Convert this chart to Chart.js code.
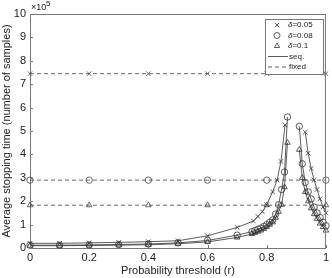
<!DOCTYPE html>
<html>
<head>
<meta charset="utf-8">
<script src="https://cdn.jsdelivr.net/npm/chart.js@4/dist/chart.umd.min.js"></script>
<style>
  html, body { margin: 0; padding: 0; background: #fff; }
  #wrap { width: 332px; height: 278px; }
</style>
</head>
<body>
<div id="wrap"><canvas id="myChart" width="332" height="278"></canvas></div>
<script>
// values in units of 1e5 samples
const xTicks = [0, 0.2, 0.4, 0.6, 0.8, 1];
const yTicks = [0, 1, 2, 3, 4, 5, 6, 7, 8, 9, 10];

const fixedR = [0, 0.2, 0.4, 0.6, 0.8, 1];
const fixed05 = [7.45, 7.45, 7.45, 7.45, 7.45, 7.45];
const fixed08 = [2.9, 2.9, 2.9, 2.9, 2.9, 2.9];
const fixed10 = [1.83, 1.83, 1.83, 1.83, 1.83, 1.83];

const seqR05 = [0, 0.1, 0.2, 0.3, 0.4, 0.5, 0.6, 0.7, 0.755, 0.77, 0.785, 0.8, 0.82, 0.835, 0.848, 0.862, 0.9, 0.93, 0.94, 0.95, 0.96, 0.97, 0.98, 0.99, 1];
const seq05 = [0.2, 0.2, 0.22, 0.24, 0.27, 0.31, 0.52, 0.88, 1.15, 1.35, 1.55, 1.85, 2.4, 2.9, 3.7, 5.26, null, 4.95, 4.05, 3.4, 2.9, 2.5, 2.1, 1.75, 1.5];

const seqR = [0, 0.1, 0.2, 0.3, 0.4, 0.5, 0.6, 0.7, 0.75, 0.76, 0.77, 0.78, 0.79, 0.8, 0.81, 0.82, 0.83, 0.84, 0.85, 0.86, 0.87, 0.89, 0.91, 0.92, 0.93, 0.94, 0.95, 0.96, 0.97, 0.98, 0.99, 1];
const seq08 = [0.12, 0.12, 0.13, 0.15, 0.17, 0.22, 0.32, 0.55, 0.7, 0.75, 0.8, 0.85, 0.92, 1.0, 1.1, 1.2, 1.45, 1.85, 2.5, 3.25, 5.6, null, 5.2, 3.6, 2.8, 2.4, 2.1, 1.75, 1.5, 1.3, 1.1, 0.95];
const seq10 = [0.1, 0.1, 0.11, 0.12, 0.14, 0.18, 0.26, 0.45, 0.6, 0.65, 0.7, 0.75, 0.82, 0.9, 1.0, 1.1, 1.3, 1.55, 1.85, 2.6, 4.5, null, 4.2, 3.0, 2.4, 2.0, 1.7, 1.45, 1.25, 1.05, 0.9, 0.75];

const FONT = 'Liberation Sans, Arial, sans-serif';
const INK = '#222';
const AXIS = '#777';

const pts = (xs, ys) => xs.map((x, i) => ({ x: x, y: ys[i] }));

function seqSet(xs, ys, style) {
    return {
        data: pts(xs, ys),
        borderColor: '#333',
        borderWidth: 0.8,
        pointStyle: style,
        pointRadius: 3.2,
        pointBorderColor: '#333',
        pointBackgroundColor: 'rgba(0,0,0,0)',
        pointBorderWidth: 0.8,
        spanGaps: false,
        tension: 0
    };
}

function fixedSet(ys, style) {
    return {
        data: pts(fixedR, ys),
        borderColor: '#444',
        borderWidth: 0.8,
        borderDash: [4, 3],
        pointStyle: style,
        pointRadius: 3.2,
        pointBorderColor: '#444',
        pointBackgroundColor: 'rgba(0,0,0,0)',
        pointBorderWidth: 0.8,
        tension: 0
    };
}

// frame, inward ticks, exponent label and legend box
const decorations = {
    id: 'decorations',
    afterDraw(chart) {
        const { ctx, chartArea: a, scales } = chart;
        ctx.save();
        ctx.strokeStyle = AXIS;
        ctx.lineWidth = 1;
        ctx.beginPath();
        ctx.moveTo(a.left, a.top + 0.5); ctx.lineTo(a.right, a.top + 0.5);
        ctx.moveTo(a.right - 0.5, a.top); ctx.lineTo(a.right - 0.5, a.bottom);
        xTicks.forEach(v => {
            const px = Math.round(scales.x.getPixelForValue(v)) + 0.5;
            ctx.moveTo(px, a.bottom); ctx.lineTo(px, a.bottom - 3);
        });
        yTicks.forEach(v => {
            const py = Math.round(scales.y.getPixelForValue(v)) + 0.5;
            ctx.moveTo(a.left, py); ctx.lineTo(a.left + 3, py);
        });
        ctx.stroke();

        // x10^5
        ctx.fillStyle = INK;
        ctx.textBaseline = 'alphabetic';
        ctx.textAlign = 'left';
        ctx.font = '9px ' + FONT;
        ctx.fillText('\u00d710', a.left + 1, 10);
        ctx.font = '8px ' + FONT;
        ctx.fillText('5', a.left + 16, 6);

        // legend
        const bx = 265, by = 19, bw = 58, bh = 55;
        ctx.fillStyle = '#fff';
        ctx.fillRect(bx, by, bw, bh);
        ctx.strokeStyle = AXIS;
        ctx.strokeRect(bx + 0.5, by + 0.5, bw, bh);
        const rows = [
            { m: 'crossRot', t: '=0.05' },
            { m: 'circle', t: '=0.08' },
            { m: 'triangle', t: '=0.1' }
        ];
        ctx.textBaseline = 'middle';
        rows.forEach((r, i) => {
            const y = by + 6 + i * 10.5;
            ctx.fillStyle = 'rgba(0,0,0,0)';
            ctx.strokeStyle = '#333';
            ctx.lineWidth = 0.8;
            Chart.helpers.drawPoint(ctx, { pointStyle: r.m, radius: 3, borderWidth: 0.8 }, 277, y);
            ctx.fillStyle = INK;
            ctx.font = 'italic 8px ' + FONT;
            ctx.fillText('\u03b4', 288, y);
            const w = ctx.measureText('\u03b4').width;
            ctx.font = '8px ' + FONT;
            ctx.fillText(r.t, 288 + w, y);
        });
        ctx.fillStyle = INK;
        ctx.strokeStyle = '#333';
        ctx.lineWidth = 0.8;
        let y = by + 6 + 3 * 10.5;
        ctx.beginPath(); ctx.moveTo(268, y); ctx.lineTo(288, y); ctx.stroke();
        ctx.fillText('seq.', 289, y);
        y = by + 6 + 4 * 10.5;
        ctx.setLineDash([4, 3]);
        ctx.beginPath(); ctx.moveTo(268, y); ctx.lineTo(288, y); ctx.stroke();
        ctx.setLineDash([]);
        ctx.fillText('fixed', 289, y);
        ctx.restore();
    }
};

const ctx = document.getElementById('myChart').getContext('2d');
new Chart(ctx, {
    type: 'line',
    data: {
        datasets: [
            fixedSet(fixed05, 'crossRot'),
            fixedSet(fixed08, 'circle'),
            fixedSet(fixed10, 'triangle'),
            seqSet(seqR05, seq05, 'crossRot'),
            seqSet(seqR, seq08, 'circle'),
            seqSet(seqR, seq10, 'triangle')
        ]
    },
    options: {
        responsive: false,
        animation: false,
        clip: false,
        layout: { padding: { top: 14, right: 5, left: 0, bottom: 0 } },
        plugins: {
            legend: { display: false },
            tooltip: { enabled: false }
        },
        scales: {
            x: {
                type: 'linear',
                min: 0,
                max: 1,
                afterBuildTicks: s => { s.ticks = xTicks.map(v => ({ value: v })); },
                afterFit: s => { s.height = 30; },
                grid: { display: false, drawTicks: false },
                border: { display: true, color: AXIS, width: 1 },
                ticks: {
                    padding: 3,
                    color: INK,
                    font: { family: FONT, size: 11 },
                    maxRotation: 0,
                    callback: v => String(Math.round(v * 10) / 10)
                },
                title: {
                    display: true,
                    text: 'Probability threshold (r)',
                    color: INK,
                    font: { family: FONT, size: 11 },
                    padding: { top: 0, bottom: 0 }
                }
            },
            y: {
                min: 0,
                max: 10,
                afterBuildTicks: s => { s.ticks = yTicks.map(v => ({ value: v })); },
                afterFit: s => { s.width = 30; },
                grid: { display: false, drawTicks: false },
                border: { display: true, color: AXIS, width: 1 },
                ticks: {
                    padding: 4,
                    color: INK,
                    font: { family: FONT, size: 11 }
                },
                title: {
                    display: true,
                    text: 'Average stopping time (number of samples)',
                    color: INK,
                    font: { family: FONT, size: 11 },
                    padding: { top: 0, bottom: 0 }
                }
            }
        }
    },
    plugins: [decorations]
});
</script>
</body>
</html>
